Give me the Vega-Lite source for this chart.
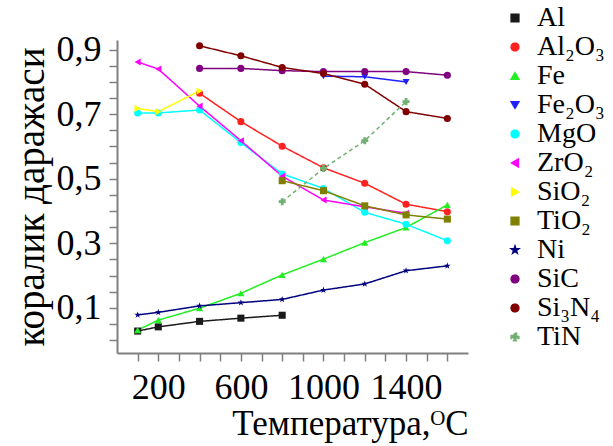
{
  "$schema": "https://vega.github.io/schema/vega-lite/v6.json",
  "width": 351,
  "height": 313,
  "autosize": {"type": "none"},
  "padding": {"left": 117, "top": 40, "right": 145, "bottom": 93},
  "background": "white",
  "config": {"view": {"stroke": null}, "font": "Liberation Serif"},
  "data": {"values": [
    {"m": "Al", "t": 100, "k": 0.028}, {"m": "Al", "t": 200, "k": 0.041}, {"m": "Al", "t": 400, "k": 0.058}, {"m": "Al", "t": 600, "k": 0.068}, {"m": "Al", "t": 800, "k": 0.077},
    {"m": "Al₂O₃", "t": 400, "k": 0.765}, {"m": "Al₂O₃", "t": 600, "k": 0.677}, {"m": "Al₂O₃", "t": 800, "k": 0.601}, {"m": "Al₂O₃", "t": 1000, "k": 0.534}, {"m": "Al₂O₃", "t": 1200, "k": 0.486}, {"m": "Al₂O₃", "t": 1400, "k": 0.421}, {"m": "Al₂O₃", "t": 1600, "k": 0.398},
    {"m": "Fe", "t": 100, "k": 0.031}, {"m": "Fe", "t": 200, "k": 0.062}, {"m": "Fe", "t": 400, "k": 0.099}, {"m": "Fe", "t": 600, "k": 0.145}, {"m": "Fe", "t": 800, "k": 0.202}, {"m": "Fe", "t": 1000, "k": 0.251}, {"m": "Fe", "t": 1200, "k": 0.302}, {"m": "Fe", "t": 1400, "k": 0.349}, {"m": "Fe", "t": 1600, "k": 0.419},
    {"m": "Fe₂O₃", "t": 1000, "k": 0.818}, {"m": "Fe₂O₃", "t": 1200, "k": 0.816}, {"m": "Fe₂O₃", "t": 1400, "k": 0.8},
    {"m": "MgO", "t": 100, "k": 0.704}, {"m": "MgO", "t": 200, "k": 0.704}, {"m": "MgO", "t": 400, "k": 0.713}, {"m": "MgO", "t": 600, "k": 0.612}, {"m": "MgO", "t": 800, "k": 0.515}, {"m": "MgO", "t": 1000, "k": 0.47}, {"m": "MgO", "t": 1200, "k": 0.396}, {"m": "MgO", "t": 1400, "k": 0.359}, {"m": "MgO", "t": 1600, "k": 0.308},
    {"m": "ZrO₂", "t": 100, "k": 0.862}, {"m": "ZrO₂", "t": 200, "k": 0.84}, {"m": "ZrO₂", "t": 400, "k": 0.725}, {"m": "ZrO₂", "t": 600, "k": 0.618}, {"m": "ZrO₂", "t": 800, "k": 0.508}, {"m": "ZrO₂", "t": 1000, "k": 0.434}, {"m": "ZrO₂", "t": 1200, "k": 0.413}, {"m": "ZrO₂", "t": 1400, "k": 0.393},
    {"m": "SiO₂", "t": 100, "k": 0.718}, {"m": "SiO₂", "t": 200, "k": 0.708}, {"m": "SiO₂", "t": 400, "k": 0.772},
    {"m": "TiO₂", "t": 800, "k": 0.494}, {"m": "TiO₂", "t": 1000, "k": 0.463}, {"m": "TiO₂", "t": 1200, "k": 0.416}, {"m": "TiO₂", "t": 1400, "k": 0.388}, {"m": "TiO₂", "t": 1600, "k": 0.375},
    {"m": "Ni", "t": 100, "k": 0.078}, {"m": "Ni", "t": 200, "k": 0.086}, {"m": "Ni", "t": 400, "k": 0.106}, {"m": "Ni", "t": 600, "k": 0.116}, {"m": "Ni", "t": 800, "k": 0.126}, {"m": "Ni", "t": 1000, "k": 0.155}, {"m": "Ni", "t": 1200, "k": 0.174}, {"m": "Ni", "t": 1400, "k": 0.215}, {"m": "Ni", "t": 1600, "k": 0.23},
    {"m": "SiC", "t": 400, "k": 0.842}, {"m": "SiC", "t": 600, "k": 0.842}, {"m": "SiC", "t": 800, "k": 0.835}, {"m": "SiC", "t": 1000, "k": 0.832}, {"m": "SiC", "t": 1200, "k": 0.832}, {"m": "SiC", "t": 1400, "k": 0.832}, {"m": "SiC", "t": 1600, "k": 0.821},
    {"m": "Si₃N₄", "t": 400, "k": 0.912}, {"m": "Si₃N₄", "t": 600, "k": 0.881}, {"m": "Si₃N₄", "t": 800, "k": 0.845}, {"m": "Si₃N₄", "t": 1000, "k": 0.826}, {"m": "Si₃N₄", "t": 1200, "k": 0.793}, {"m": "Si₃N₄", "t": 1400, "k": 0.708}, {"m": "Si₃N₄", "t": 1600, "k": 0.687},
    {"m": "TiN", "t": 800, "k": 0.429}, {"m": "TiN", "t": 1000, "k": 0.532}, {"m": "TiN", "t": 1200, "k": 0.618}, {"m": "TiN", "t": 1400, "k": 0.739}
  ]},
  "encoding": {
    "x": {
      "field": "t", "type": "quantitative",
      "scale": {"domain": [0, 1700], "nice": false, "zero": false},
      "axis": {
        "title": "Температура,ᴼC", "titleFont": "Liberation Serif", "titleFontSize": 35, "titleFontWeight": "normal", "titleColor": "black",
        "titleAnchor": "end", "titlePadding": 1,
        "values": [100, 200, 300, 400, 500, 600, 700, 800, 900, 1000, 1100, 1200, 1300, 1400, 1500, 1600],
        "labelExpr": "(datum.value % 400 == 200) ? format(datum.value, 'd') : ''",
        "labelFont": "Liberation Serif", "labelFontSize": 36, "labelColor": "black", "labelPadding": 9,
        "labelFlush": false, "labelOverlap": false,
        "grid": false, "domainColor": "#808080", "domainWidth": 2, "tickColor": "#808080", "tickWidth": 1.5, "tickSize": 8
      }
    },
    "y": {
      "field": "k", "type": "quantitative",
      "scale": {"domain": [-0.04, 0.93], "nice": false, "zero": false},
      "axis": {
        "title": "коралик даражаси", "titleFont": "Liberation Serif", "titleFontSize": 39, "titleFontWeight": "normal", "titleColor": "black",
        "titlePadding": 5,
        "values": [0, 0.05, 0.1, 0.15, 0.2, 0.25, 0.3, 0.35, 0.4, 0.45, 0.5, 0.55, 0.6, 0.65, 0.7, 0.75, 0.8, 0.85, 0.9],
        "labelExpr": "(abs(round(datum.value * 100)) % 20 == 10) ? replace(format(datum.value, '.1f'), '.', ',') : ''",
        "labelFont": "Liberation Serif", "labelFontSize": 36, "labelColor": "black", "labelPadding": 8,
        "labelFlush": false, "labelOverlap": false,
        "grid": false, "domainColor": "#808080", "domainWidth": 2, "tickColor": "#808080", "tickWidth": 1.5, "tickSize": 8
      }
    },
    "color": {
      "field": "m", "type": "nominal",
      "scale": {
        "domain": ["Al", "Al₂O₃", "Fe", "Fe₂O₃", "MgO", "ZrO₂", "SiO₂", "TiO₂", "Ni", "SiC", "Si₃N₄", "TiN"],
        "range": ["#1a1a1a", "#ff2020", "#22ee22", "#2020ff", "#00ffff", "#ff00ff", "#ffff00", "#808000", "#000080", "#800080", "#800000", "#70b070"]
      },
      "legend": {
        "title": null, "orient": "none", "legendX": 384, "legendY": -36, "padding": 0,
        "labelFont": "Liberation Serif", "labelFontSize": 28, "labelColor": "black", "labelLimit": 200,
        "symbolSize": 60, "rowPadding": 1, "labelOffset": 8
      }
    }
  },
  "layer": [
    {
      "mark": {"type": "line", "strokeWidth": 1.5},
      "encoding": {
        "strokeDash": {
          "field": "m", "type": "nominal",
          "scale": {
            "domain": ["Al", "Al₂O₃", "Fe", "Fe₂O₃", "MgO", "ZrO₂", "SiO₂", "TiO₂", "Ni", "SiC", "Si₃N₄", "TiN"],
            "range": [[1, 0], [1, 0], [1, 0], [1, 0], [1, 0], [1, 0], [1, 0], [1, 0], [1, 0], [1, 0], [1, 0], [4, 3]]
          },
          "legend": null
        }
      }
    },
    {
      "mark": {"type": "point", "filled": true, "size": 50, "opacity": 1},
      "encoding": {
        "shape": {
          "field": "m", "type": "nominal",
          "scale": {
            "domain": ["Al", "Al₂O₃", "Fe", "Fe₂O₃", "MgO", "ZrO₂", "SiO₂", "TiO₂", "Ni", "SiC", "Si₃N₄", "TiN"],
            "range": ["square", "circle", "triangle-up", "triangle-down", "circle", "triangle-left", "triangle-right", "square", "M0,-1L0.2245,-0.309L0.951,-0.309L0.363,0.118L0.588,0.809L0,0.382L-0.588,0.809L-0.363,0.118L-0.951,-0.309L-0.2245,-0.309Z", "circle", "circle", "cross"]
          },
          "legend": {
            "title": null, "orient": "none", "legendX": 384, "legendY": -36, "padding": 0,
            "labelFont": "Liberation Serif", "labelFontSize": 28, "labelColor": "black", "labelLimit": 200,
            "symbolSize": 60, "rowPadding": 1, "labelOffset": 8
          }
        }
      }
    }
  ]
}
